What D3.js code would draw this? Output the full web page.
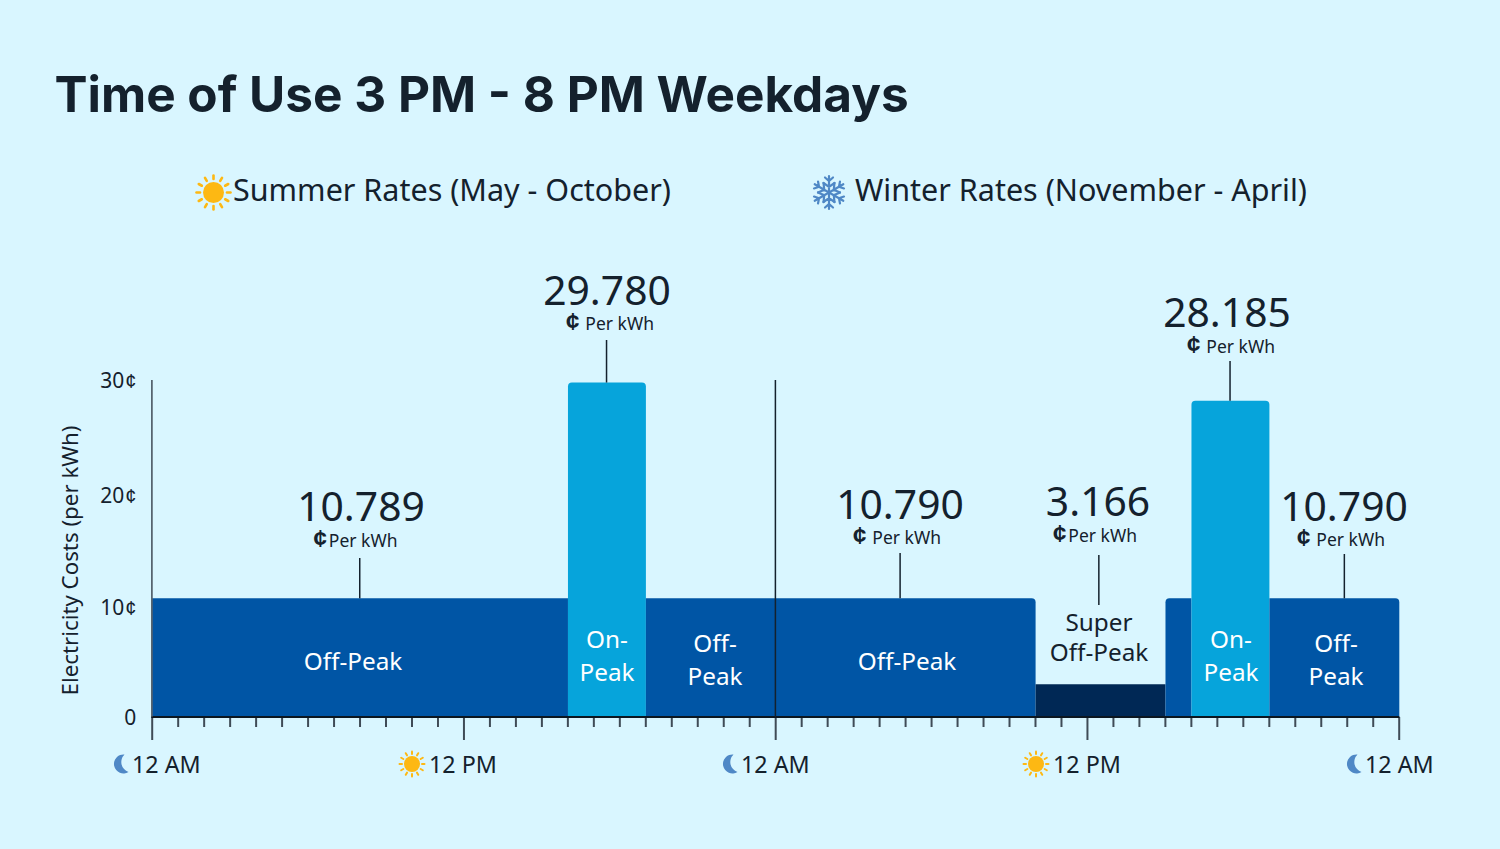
<!DOCTYPE html>
<html><head><meta charset="utf-8">
<script src="https://cdn.jsdelivr.net/npm/d3@7/dist/d3.min.js"></script>
<style>
html,body{margin:0;padding:0;background:#d9f6ff;overflow:hidden}
svg{display:block}
text{font-family:"Noto Sans",sans-serif;fill:#14212d}
</style></head><body>
<svg id="c" width="1500" height="849"></svg>
<script>
// ---- data ----
const chartTitle = "Time of Use 3 PM - 8 PM Weekdays";
const legendLabels = ["Summer Rates (May - October)", "Winter Rates (November - April)"];
const yAxisTitle = "Electricity Costs (per kWh)";
const yTicks = [0, 10, 20, 30];
const majorHours = [0, 12, 24, 36, 48];
const majorLabels = ["12 AM", "12 PM", "12 AM", "12 PM", "12 AM"];
const majorIcons = ["moon", "sun", "moon", "sun", "moon"];
const segStart = [0, 16, 19, 24, 34, 39, 40, 43];
const segEnd   = [16, 19, 24, 34, 39, 40, 43, 48];
const segValue = [10.789, 29.78, 10.789, 10.79, 3.166, 10.79, 28.185, 10.79];
const segType  = ["off", "on", "off", "off", "super", "off", "on", "off"];
const rateValues = ["10.789", "29.780", "10.790", "3.166", "28.185", "10.790"];
const rateHours = [8, 17.5, 28.8, 36.45, 41.5, 45.9];
const hours = d3.range(0, 49);

// ---- layout ----
const colors = {off:"#0055a5", on:"#06a4db", super:"#002855"};
const W = 1500, H = 849, x0 = 152.3, x1 = 1399.3, base = 717;
const svg = d3.select("#c");
const x = d3.scaleLinear().domain([0, 48]).range([x0, x1]);
const y = d3.scaleLinear().domain([0, 3.166, 10, 20, 30]).range([base, 684.3, 607.2, 495, 380]);

svg.append("rect").attr("width", W).attr("height", H).attr("fill", "#d9f6ff");
svg.append("text").attr("x", 54.5).attr("y", 112).text(chartTitle)
  .style("font-family", "Inter,sans-serif").style("font-weight", 700).style("font-size", "49.5px");

// legend
const legendX = [233, 855];
svg.selectAll(".lg").data(legendLabels).join("text").attr("class", "lg")
  .attr("x", (d, i) => legendX[i]).attr("y", 201).text(d => d).style("font-size", "30.5px");

function sun(g, r, ray0, ray1, w) {
  d3.range(12).forEach(i => {
    g.append("line").attr("y1", -ray0).attr("y2", -ray1).attr("transform", `rotate(${i * 30})`)
      .attr("stroke", "#fdb813").attr("stroke-width", w).attr("stroke-linecap", "round");
  });
  g.append("circle").attr("r", r).attr("fill", "#fdb813");
}
function moon(g) {
  g.append("path").attr("fill", "#4f88c6")
    .attr("d", "M4,-9.5 A9.5,9.5 0 1 0 8,8 A10.5,10.5 0 0 1 4,-9.5 Z");
}
function flake(g) {
  d3.range(6).forEach(i => {
    const a = g.append("g").attr("transform", `rotate(${i * 60})`)
      .attr("stroke", "#4f88c6").attr("stroke-width", 2.2).attr("stroke-linecap", "round").attr("fill", "none");
    a.append("path").attr("d", "M0,0V-16.5M-4,-15L0,-11.5L4,-15M-5.5,-9.5L0,-5.5L5.5,-9.5");
  });
}
sun(svg.append("g").attr("transform", "translate(213.5,192.5)"), 10.5, 13.5, 17, 2.6);
flake(svg.append("g").attr("transform", "translate(829,192.5)"));

// bars
const segs = segStart.map((s, i) => ({s, e: segEnd[i], v: segValue[i], t: segType[i]}));
function barPath(d) {
  const a = x(d.s), b = x(d.e), t = y(d.v), r = 4;
  const left = d.s === 39 ? r : 0;
  const right = (d.e === 34 || d.e === 48) ? r : 0;
  const onR = d.t === "on" ? r : 0;
  const rl = Math.max(left, onR), rr = Math.max(right, onR);
  return `M${a},${base}V${t + rl}Q${a},${t} ${a + rl},${t}H${b - rr}Q${b},${t} ${b},${t + rr}V${base}Z`;
}
svg.selectAll(".bar").data(segs).join("path").attr("class", "bar")
  .attr("d", barPath).attr("fill", d => colors[d.t]);

// x axis
const xAxis = d3.axisBottom(x).tickValues(hours).tickSize(10).tickFormat("");
const gx = svg.append("g").attr("transform", `translate(-0.6,${base})`).call(xAxis);
gx.select(".domain").remove();
gx.selectAll(".tick line").attr("stroke", "#3f4b56").attr("stroke-width", 2)
  .attr("y2", d => majorHours.includes(d) ? 23 : 10);
svg.append("line").attr("x1", x0 - 1).attr("x2", x1).attr("y1", base).attr("y2", base)
  .attr("stroke", "#0b1620").attr("stroke-width", 2);

// vertical rules
[0, 24].forEach(h => svg.append("line").attr("x1", x(h) - 0.4).attr("x2", x(h) - 0.4)
  .attr("y1", y(30)).attr("y2", base).attr("stroke", h ? "#14212d" : "#3f4b56").attr("stroke-width", 1.5));

// y axis labels
const gy = svg.append("g").attr("transform", `translate(${x0 - 1},1)`)
  .call(d3.axisLeft(y).tickValues(yTicks).tickSize(0).tickPadding(15).tickFormat(d => d ? String(d) : "0"));
gy.select(".domain").remove();
gy.selectAll("text").style("font-family", '"Noto Sans",sans-serif').style("font-size", "21px").attr("fill", "#14212d")
  .each(function (d) {
    if (!d) return;
    d3.select(this).append("tspan").attr("dx", 1).text("¢")
      .style("font-family", '"Liberation Sans",sans-serif').style("font-size", "20px");
  });
svg.append("text").attr("transform", "translate(78,560.5) rotate(-90)").attr("text-anchor", "middle")
  .text(yAxisTitle).style("font-size", "22.3px");

// x labels + icons
const labelX = [132, 429, 741, 1053, 1365];
const iconX = [120.5, 412, 729.5, 1036, 1353.5];
majorLabels.forEach((l, i) => {
  svg.append("text").attr("x", labelX[i]).attr("y", 773).text(l).style("font-size", "23.3px");
  const g = svg.append("g").attr("transform", `translate(${iconX[i]},764)`);
  if (majorIcons[i] === "moon") moon(g); else sun(g, 8, 10, 12.5, 2);
});

// callouts
const valueX = [361, 607, 900, 1098, 1227, 1344];
const valueY = [521, 305, 519, 516, 327, 521];
const unitY = [547, 330, 544, 542, 353, 546];
const unitStart = [313.5, 566, 853, 1053, 1187, 1297];
const unitGap = [1, 5, 5, 1, 5, 5];
const leadTop = [558, 340, 553, 555, 361, 554];
const leadBot = [y(10.789), y(29.78), y(10.79), 605, y(28.185), y(10.79)];
rateValues.forEach((v, i) => {
  svg.append("text").attr("x", valueX[i]).attr("y", valueY[i]).attr("text-anchor", "middle").text(v).style("font-size", "40.8px");
  const t = svg.append("text").attr("x", unitStart[i]).attr("y", unitY[i]).style("font-size", "17.5px");
  t.append("tspan").text("¢").style("font-family", '"Liberation Sans",sans-serif').style("font-weight", 700).style("font-size", "24px");
  t.append("tspan").attr("dx", unitGap[i] + 1).text("Per kWh");
  svg.append("line").attr("x1", x(rateHours[i]) - 0.4).attr("x2", x(rateHours[i]) - 0.4).attr("y1", leadTop[i]).attr("y2", leadBot[i])
    .attr("stroke", "#14212d").attr("stroke-width", 1.5);
});

// band labels
const bandLabels = [["Off-Peak"], ["On-", "Peak"], ["Off-", "Peak"], ["Off-Peak"], ["Super", "Off-Peak"], ["On-", "Peak"], ["Off-", "Peak"]];
const bandX = [353, 607, 715, 907, 1099, 1231, 1336];
const bandY = [670, 648, 652, 670, 631, 648, 652];
const bandFill = ["#fff", "#fff", "#fff", "#fff", "#14212d", "#fff", "#fff"];
bandLabels.forEach((ls, i) => ls.forEach((l, j) => {
  svg.append("text").attr("x", bandX[i]).attr("y", bandY[i] + j * (i === 4 ? 30 : 33)).attr("text-anchor", "middle")
    .text(l).style("font-size", "24.3px").style("fill", bandFill[i]);
}));
</script>
</body></html>
